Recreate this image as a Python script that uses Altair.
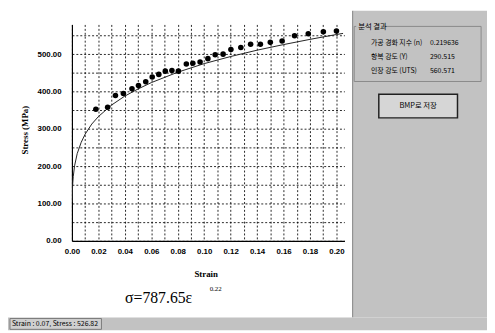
import altair as alt
import pandas as pd

# measured data points (strain, stress in MPa)
pt_strain = [0.0181, 0.0270, 0.0329, 0.0389, 0.0454, 0.0503, 0.0558, 0.0607, 0.0657, 0.0706,
             0.0756, 0.0805, 0.0865, 0.0914, 0.0969, 0.1028, 0.1083, 0.1143, 0.1202, 0.1277,
             0.1351, 0.1425, 0.1500, 0.1589, 0.1683, 0.1787, 0.1901, 0.2000]
pt_stress = [352.8, 358.0, 389.7, 395.0, 407.3, 416.0, 426.6, 439.0, 446.1, 454.8,
             456.6, 454.8, 474.0, 475.9, 479.3, 488.3, 498.8, 500.4, 512.8, 518.1,
             526.8, 526.8, 532.0, 535.7, 549.7, 555.0, 560.3, 562.1]

# fitted curve
curve_strain = [0.0001, 0.0005, 0.001, 0.002, 0.004, 0.007, 0.01, 0.015, 0.02, 0.03, 0.04,
                0.05, 0.06, 0.08, 0.10, 0.12, 0.14, 0.16, 0.18, 0.20, 0.205]
curve_stress = [104, 148, 172, 201, 234, 264, 286, 313, 333, 364, 388,
                407, 424, 452, 475, 494, 511, 526, 540, 553, 556]

x_ticks = [0.00, 0.01, 0.02, 0.03, 0.04, 0.05, 0.06, 0.07, 0.08, 0.09, 0.10,
           0.11, 0.12, 0.13, 0.14, 0.15, 0.16, 0.17, 0.18, 0.19, 0.20]
y_ticks = [0, 50, 100, 150, 200, 250, 300, 350, 400, 450, 500, 550]

formula_main = "σ=787.65ε"
formula_exp = "0.22"
panel_title = "분석 결과"
result_labels = ["가공 경화 지수 (n)", "항복 강도 (Y)", "인장 강도 (UTS)"]
result_values = ["0.219636", "290.515", "560.571"]
button_text = "BMP로 저장"
status_text = "Strain : 0.07, Stress : 526.82"

pts = pd.DataFrame({"strain": pt_strain, "stress": pt_stress})
curve = pd.DataFrame({"strain": curve_strain, "stress": curve_stress})
one = pd.DataFrame({"a": [0]})

xscale = alt.Scale(domain=[0, 0.206], nice=False, zero=False)
yscale = alt.Scale(domain=[0, 580], nice=False)

xaxis = alt.Axis(values=x_ticks, title="Strain",
                 labelExpr="round(datum.value*100) % 2 == 0 ? format(datum.value, '.2f') : ''",
                 grid=True, gridDash=[2, 2], gridColor="#000", gridWidth=1, gridOpacity=0.85,
                 ticks=False, labelPadding=7, domainColor="#000", domainWidth=1.2,
                 labelFont="Liberation Sans", labelFontWeight="bold", labelFontSize=8, labelColor="#000",
                 titleFont="Liberation Serif", titleFontWeight="bold", titleFontSize=9, titleColor="#000",
                 titleX=136, titleY=33, titleBaseline="middle", titleAlign="center", labelFlush=False)
yaxis = alt.Axis(values=y_ticks, title="Stress (MPa)",
                 labelExpr="datum.value % 100 == 0 ? format(datum.value, '.2f') : ''",
                 grid=True, gridDash=[2, 2], gridColor="#000", gridWidth=1, gridOpacity=0.85,
                 ticks=False, labelPadding=11, domainColor="#000", domainWidth=1.2,
                 labelFont="Liberation Sans", labelFontWeight="bold", labelFontSize=8, labelColor="#000",
                 titleFont="Liberation Serif", titleFontWeight="bold", titleFontSize=9, titleColor="#000",
                 titleX=-48, titleY=107, titleAngle=-90, titleBaseline="middle", titleAlign="center",
                 labelFlush=False)

def rect(x, x2, y, y2, fill, stroke=None, sw=0):
    kw = dict(fill=fill, strokeWidth=sw)
    if stroke:
        kw["stroke"] = stroke
    return alt.Chart(one).mark_rect(**kw).encode(
        x=alt.value(x), x2=alt.value(x2), y=alt.value(y), y2=alt.value(y2))

def txt(t, x, y, size=8, font="Noto Sans CJK KR", align="left", weight="normal", color="#000"):
    return alt.Chart(one).mark_text(text=t, font=font, fontSize=size, align=align,
                                    baseline="middle", fontWeight=weight, color=color).encode(
        x=alt.value(x), y=alt.value(y))

layers = []
# right panel and status bar (window chrome)
layers.append(rect(286, 422, -14, 298, "#c2c2c2"))
layers.append(rect(285, 286, -14, 298, "#6e6e6e"))
layers.append(rect(287, 416, 2, 58, "#c2c2c2", stroke="#8a8a8a", sw=1))
layers.append(rect(289, 318, -2, 8, "#c2c2c2"))
layers.append(txt(panel_title, 291, 3, size=7.5))
for i, (lab, val) in enumerate(zip(result_labels, result_values)):
    layers.append(txt(lab, 304, 19 + 14 * i, size=7))
    layers.append(txt(val, 364, 19 + 14 * i, size=7))
layers.append(rect(312, 392, 71, 95, "#d6d6d6", stroke="#202020", sw=1.5))
layers.append(txt(button_text, 352, 83, align="center", size=7.5))
layers.append(rect(-65, 422, 298, 311, "#c2c2c2"))
layers.append(rect(-63, 30, 299, 310, "#cfcfcf", stroke="#7a7a7a", sw=1))
layers.append(txt(status_text, -61, 304.5, size=7))

# data
layers.append(alt.Chart(curve).mark_line(color="#222", strokeWidth=1, clip=True).encode(
    x=alt.X("strain:Q", scale=xscale, axis=xaxis),
    y=alt.Y("stress:Q", scale=yscale, axis=yaxis)))
layers.append(alt.Chart(pts).mark_circle(color="#000", opacity=1, size=32).encode(
    x=alt.X("strain:Q", scale=xscale, axis=xaxis),
    y=alt.Y("stress:Q", scale=yscale, axis=yaxis)))

# formula annotation
layers.append(txt(formula_main, 54, 278, size=16, font="Liberation Serif"))
layers.append(txt(formula_exp, 140, 269, size=7, font="Liberation Serif"))

chart = alt.layer(*layers).properties(
    width=277, height=220,
    autosize=alt.AutoSizeParams(type="none"),
    padding={"left": 65, "top": 14, "right": 145, "bottom": 91},
    background="white",
).configure_view(strokeWidth=0)

chart.save("out.html", embed_options={"renderer": "svg", "actions": False})
